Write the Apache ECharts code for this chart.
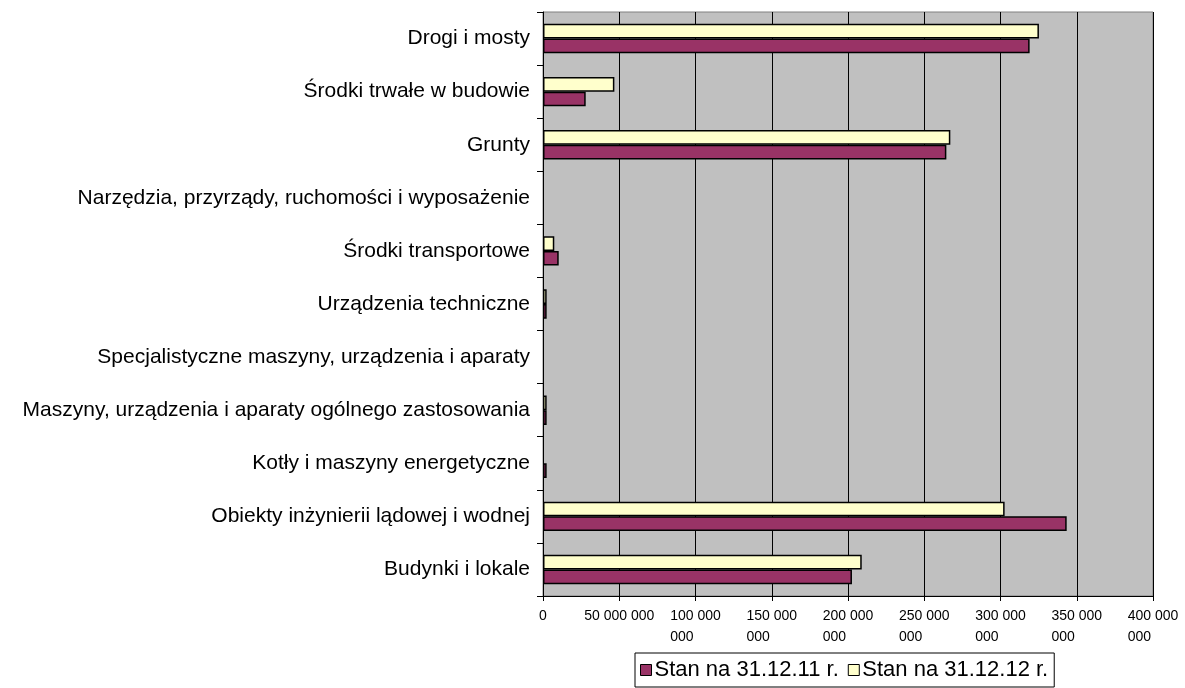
<!DOCTYPE html>
<html>
<head>
<meta charset="utf-8">
<script src="https://cdn.jsdelivr.net/npm/echarts@6/dist/echarts.min.js"></script>
<style>
html,body{margin:0;padding:0;background:#fff;}
#chart{width:1185px;height:688px;}
</style>
</head>
<body>
<div id="chart"></div>
<script>
var categories = [
  'Budynki i lokale',
  'Obiekty inżynierii lądowej i wodnej',
  'Kotły i maszyny energetyczne',
  'Maszyny, urządzenia i aparaty ogólnego zastosowania',
  'Specjalistyczne maszyny, urządzenia i aparaty',
  'Urządzenia techniczne',
  'Środki transportowe',
  'Narzędzia, przyrządy, ruchomości i wyposażenie',
  'Grunty',
  'Środki trwałe w budowie',
  'Drogi i mosty'
];
var seriesNames = ['Stan na 31.12.11 r.', 'Stan na 31.12.12 r.'];
// null = no visible bar (value ~0)
var values2011 = [202600000, 343400000, 2400000, 2400000, null, 2400000, 10300000, null, 264500000, 28000000, 319100000];
var values2012 = [209000000, 302700000, null, 2400000, null, 2400000, 7400000, null, 267100000, 46800000, 325200000];
var xTickLabels = ['0', '50 000 000', '100 000\n000       ', '150 000\n000       ', '200 000\n000       ', '250 000\n000       ', '300 000\n000       ', '350 000\n000       ', '400 000\n000       '];

var FONT = '"Liberation Sans", Arial, sans-serif';
var chart = echarts.init(document.getElementById('chart'));
chart.setOption({
  animation: false,
  backgroundColor: '#ffffff',
  textStyle: {fontFamily: FONT, color: '#000'},
  grid: {
    left: 543, right: 32, top: 12, bottom: 92,
    show: true, backgroundColor: '#C0C0C0', borderColor: '#808080', borderWidth: 1,
    containLabel: false
  },
  legend: {
    data: seriesNames,
    left: 635, top: 653,
    padding: [6, 6, 6, 5],
    itemGap: 9,
    itemWidth: 11, itemHeight: 11,
    icon: 'rect',
    borderColor: '#000', borderWidth: 1,
    backgroundColor: '#fff',
    itemStyle: {borderColor: '#000', borderWidth: 1},
    textStyle: {fontFamily: FONT, fontSize: 22, color: '#000', padding: [0, 0, 0, -2]}
  },
  xAxis: {
    type: 'value',
    min: 0, max: 400000000, interval: 50000000,
    axisLine: {show: true, lineStyle: {color: '#000', width: 1}},
    axisTick: {show: true, length: 5, lineStyle: {color: '#000'}},
    splitLine: {show: true, lineStyle: {color: '#000', width: 1}},
    axisLabel: {
      margin: 10,
      fontSize: 14, lineHeight: 21, color: '#000', fontFamily: FONT,
      formatter: function (v) { return xTickLabels[Math.round(v / 50000000)]; }
    }
  },
  yAxis: {
    type: 'category',
    data: categories,
    axisLine: {show: true, lineStyle: {color: '#000', width: 1}},
    axisTick: {show: true, length: 6, alignWithLabel: false, lineStyle: {color: '#000'}},
    axisLabel: {margin: 13, fontSize: 21, color: '#000', fontFamily: FONT, interval: 0}
  },
  series: [
    {
      name: seriesNames[1], type: 'bar', data: values2012,
      barGap: '0%', barCategoryGap: '44.6%',
      itemStyle: {color: '#FFFFCC', borderColor: '#000', borderWidth: 1.5}
    },
    {
      name: seriesNames[0], type: 'bar', data: values2011,
      barGap: '0%', barCategoryGap: '44.6%',
      itemStyle: {color: '#993366', borderColor: '#000', borderWidth: 1.5}
    }
  ]
});
</script>
</body>
</html>
